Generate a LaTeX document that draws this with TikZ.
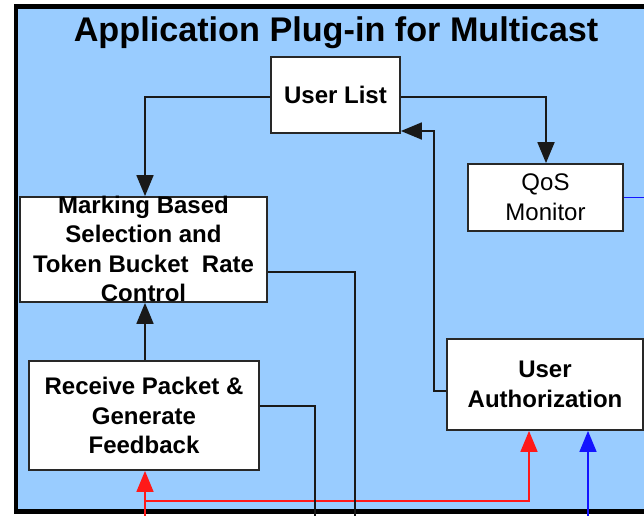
\documentclass[tikz,border=0pt]{standalone}
\usepackage{fontspec}
\setmainfont{Liberation Sans}
\usetikzlibrary{arrows.meta}

\definecolor{panelblue}{RGB}{153,204,255}
\definecolor{edgegray}{RGB}{40,40,40}
\definecolor{linkblack}{RGB}{25,25,25}
\definecolor{feedred}{RGB}{255,25,25}
\definecolor{qosblue}{RGB}{20,20,255}

\tikzset{
  block/.style={draw=edgegray, line width=1.8pt, fill=white, inner sep=0pt,
    align=center, font=\fontsize{24}{29.6}\selectfont\bfseries},
  plainblock/.style={block, font=\fontsize{24}{30}\selectfont},
  link/.style={draw=linkblack, line width=1.8pt},
  tip/.style={-{Triangle[length=21pt,width=17pt]}},
}

\begin{document}
\begin{tikzpicture}[x=1pt,y=-1pt]
  \useasboundingbox (0,0) rectangle (644,515);

  % panel
  \draw[line width=4.5pt, fill=panelblue] (16,6.5) rectangle (690,511.5);
  \node[anchor=base, font=\fontsize{34.2}{40}\selectfont\bfseries, inner sep=0pt]
    (title) at (336,41) {Application Plug-in for Multicast};

  % blocks
  \node[block, minimum width=129pt, minimum height=76pt] (ulist) at (335.5,95) {User List};
  \node[plainblock, minimum width=155pt, minimum height=67pt] (qos) at (545.5,197.5) {QoS\\Monitor};
  \node[block, minimum width=247pt, minimum height=105pt] (mark) at (143.5,249.5) {};
  \node[inner sep=0pt, align=center, font=\fontsize{24}{29.4}\selectfont\bfseries]
    (marktxt) at (143.5,248.8) {Marking Based\\Selection and\\Token Bucket\ \ Rate\\Control};
  \node[block, minimum width=230pt, minimum height=109pt] (recv) at (144,415.5) {Receive Packet \&\\Generate\\Feedback};
  \node[block, minimum width=196pt, minimum height=91pt] (auth) at (545,384.5) {User\\Authorization};

  % free ends below and right of the panel
  \coordinate (redin) at (145,518);
  \coordinate (bluein) at (588,518);
  \coordinate (markout) at (355,518);
  \coordinate (recvout) at (315,518);
  \coordinate (qosout) at (650,197.5);

  % feedback lines (red), under the black ones
  \draw[feedred, line width=1.5pt, tip] (redin) -- (redin |- recv.south);
  \draw[feedred, line width=1.5pt, tip] (145,501) -- (529,501) -- (529,0 |- auth.south);
  % blue lines
  \draw[qosblue, line width=1.6pt, tip] (bluein) -- (bluein |- auth.south);
  \draw[qosblue, line width=1.6pt] (qos.east) -- (qosout);

  % black connectors
  \draw[link, tip] (ulist.west |- 0,97) -- (145,97) -- (145,0 |- mark.north);
  \draw[link, tip] (ulist.east |- 0,97) -- (546,97) -- (546,0 |- qos.north);
  \draw[link, tip] (auth.west |- 0,391) -- (434,391) -- (434,131) -- (ulist.east |- 0,131);
  \draw[link, tip] (recv.north -| 145,0) -- (145,0 |- mark.south);
  \draw[link] (mark.east |- 0,272) -- (355,272) -- (markout);
  \draw[link] (recv.east |- 0,406) -- (315,406) -- (recvout);
\end{tikzpicture}
\end{document}
